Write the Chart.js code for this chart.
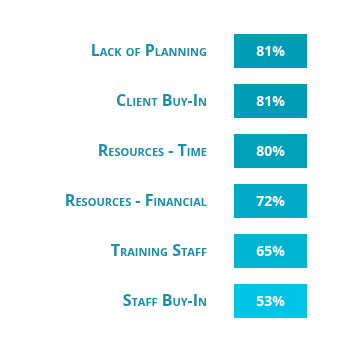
<!DOCTYPE html>
<html>
<head>
<meta charset="utf-8">
<script src="https://cdn.jsdelivr.net/npm/chart.js@4"></script>
<style>
    html, body { margin: 0; padding: 0; background: #fff; }
    #wrap { width: 350px; height: 350px; }
</style>
</head>
<body>
<div id="wrap"><canvas id="chart"></canvas></div>
<script>
const categories = ['Lack of Planning', 'Client Buy-In', 'Resources - Time', 'Resources - Financial', 'Training Staff', 'Staff Buy-In'];
const values = [81, 81, 80, 72, 65, 53];
const barColors = ['#009bb5', '#009cb6', '#00a0bb', '#00a9c6', '#00b4d1', '#00c4e5'];
// every row is drawn as one full-width cell; the number is written inside it
const cellSpan = [1, 1, 1, 1, 1, 1];

const valueLabels = {
    id: 'valueLabels',
    afterDatasetsDraw(chart) {
        const ctx = chart.ctx;
        const meta = chart.getDatasetMeta(0);
        ctx.save();
        ctx.fillStyle = '#ffffff';
        ctx.font = "bold 14px 'Open Sans', sans-serif";
        ctx.textAlign = 'center';
        ctx.textBaseline = 'middle';
        meta.data.forEach((bar, i) => {
            const cx = (bar.x + bar.base) / 2;
            ctx.fillText(values[i] + '%', cx, bar.y + 1);
        });
        ctx.restore();
    }
};

const ctx = document.getElementById('chart').getContext('2d');
new Chart(ctx, {
    type: 'bar',
    data: {
        labels: categories,
        datasets: [{
            data: cellSpan,
            backgroundColor: barColors,
            borderWidth: 0,
            barPercentage: 0.68,
            categoryPercentage: 1
        }]
    },
    options: {
        indexAxis: 'y',
        responsive: true,
        maintainAspectRatio: false,
        animation: false,
        layout: {
            padding: { top: 26, bottom: 24, left: 0, right: 43 }
        },
        plugins: {
            legend: { display: false },
            tooltip: { enabled: false }
        },
        scales: {
            x: {
                display: false,
                min: 0,
                max: 1
            },
            y: {
                grid: { display: false, drawTicks: false },
                border: { display: false },
                ticks: {
                    color: '#1c8ea8',
                    padding: 27,
                    font: { family: "'Open Sans', sans-serif", size: 16, weight: 'bold small-caps' }
                },
                afterFit(scale) {
                    scale.width = 234;
                    scale.paddingTop = 0;
                    scale.paddingBottom = 0;
                }
            }
        }
    },
    plugins: [valueLabels]
});
</script>
</body>
</html>
